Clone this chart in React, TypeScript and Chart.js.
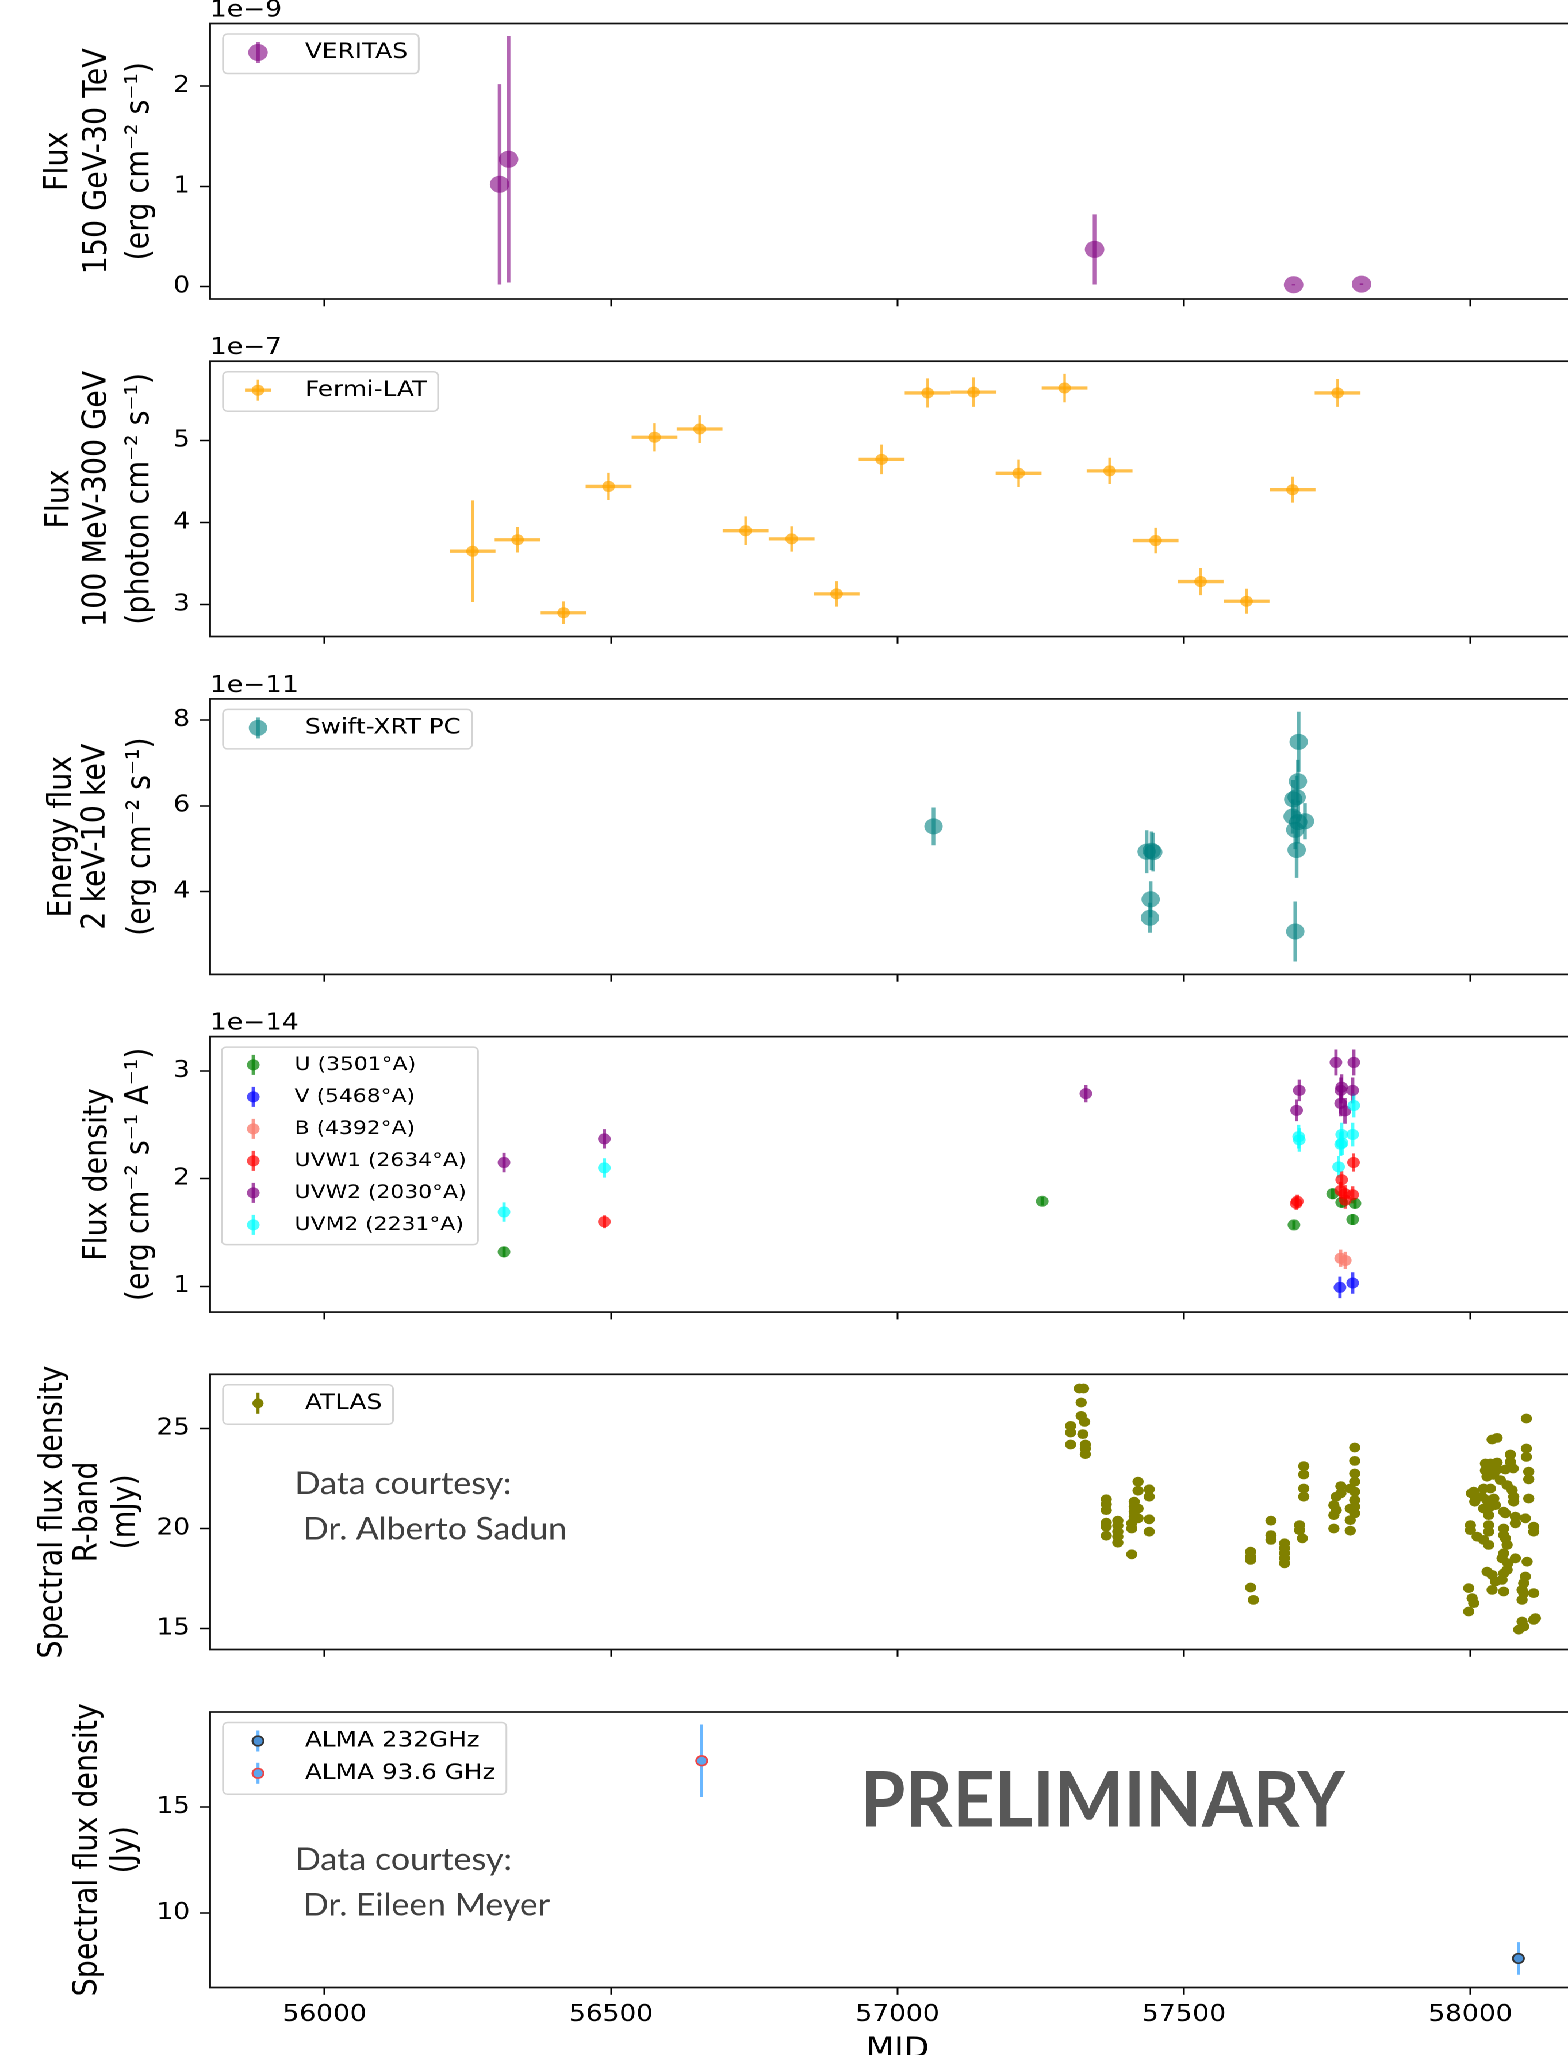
import React, { useEffect, useRef } from "react";
import { Chart, registerables } from "chart.js";

Chart.register(...registerables);

/* ------------------------------------------------------------------ */
/* data                                        */
/* ------------------------------------------------------------------ */
const mjdTicks = [56000, 56500, 57000, 57500, 58000];
const mjdMin = 55800;
const mjdMax = 58200;

// VERITAS 150 GeV-30 TeV (x 1e-9 erg cm-2 s-1)
const veritasMJD = [56305.5, 56321.2, 57344.0, 57691.4, 57810.0];
const veritasFlux = [1.02, 1.27, 0.37, 0.017, 0.023];
const veritasErr = [1.0, 1.23, 0.35, 0.006, 0.008];
const veritasTicks = [0, 1, 2];

// Fermi-LAT 100 MeV-300 GeV (x 1e-7 photon cm-2 s-1)
const fermiMJD = [56258.3, 56336.9, 56417.2, 56495.7, 56576.0, 56654.6, 56734.9, 56815.2, 56893.7, 56972.3,
  57052.6, 57132.8, 57211.4, 57291.7, 57370.2, 57450.5, 57529.1, 57609.3, 57689.6, 57768.2];
const fermiFlux = [3.65, 3.79, 2.90, 4.44, 5.04, 5.14, 3.90, 3.80, 3.13, 4.77,
  5.58, 5.59, 4.60, 5.64, 4.63, 3.78, 3.28, 3.04, 4.40, 5.58];
const fermiErr = [0.62, 0.155, 0.138, 0.165, 0.172, 0.17, 0.175, 0.155, 0.155, 0.18,
  0.177, 0.18, 0.167, 0.173, 0.16, 0.155, 0.165, 0.152, 0.158, 0.17];
const fermiHalfBin = [40, 40, 40, 40, 40, 40, 40, 40, 40, 40, 40, 40, 40, 40, 40, 40, 40, 40, 40, 40];
const fermiTicks = [3, 4, 5];

// Swift-XRT PC 2-10 keV (x 1e-11 erg cm-2 s-1)
const swiftMJD = [57062.9, 57434.9, 57443.6, 57446.4, 57441.9, 57440.7, 57700.2, 57699.0, 57690.8, 57696.7,
  57689.7, 57711.2, 57699.5, 57694.3, 57696.7, 57694.3];
const swiftFlux = [5.52, 4.93, 4.95, 4.92, 3.82, 3.39, 7.49, 6.57, 6.15, 6.20,
  5.75, 5.64, 5.62, 5.44, 4.97, 3.07];
const swiftErr = [0.44, 0.5, 0.45, 0.45, 0.42, 0.35, 0.7, 0.5, 0.45, 0.5,
  0.4, 0.42, 0.5, 0.45, 0.65, 0.7];
const swiftTicks = [4, 6, 8];

// Swift-UVOT (x 1e-14 erg cm-2 s-1 A-1)
const uMJD = [56313.2, 57252.7, 57692.0, 57759.6, 57775.3, 57798.5, 57794.5];
const uFlux = [1.32, 1.79, 1.57, 1.86, 1.78, 1.77, 1.62];
const uErr = [0.05, 0.04, 0.04, 0.05, 0.05, 0.05, 0.05];
const vMJD = [57772.3, 57794.5];
const vFlux = [0.99, 1.03];
const vErr = [0.1, 0.1];
const bMJD = [57773.5, 57781.6];
const bFlux = [1.26, 1.24];
const bErr = [0.08, 0.08];
const uvw1MJD = [56488.4, 57697.8, 57696.0, 57775.3, 57773.5, 57781.0, 57781.6, 57796.0, 57794.5];
const uvw1Flux = [1.60, 1.79, 1.77, 1.99, 1.89, 1.86, 1.80, 2.15, 1.85];
const uvw1Err = [0.06, 0.06, 0.06, 0.08, 0.08, 0.08, 0.08, 0.085, 0.08];
const uvw2MJD = [56313.2, 56488.4, 57328.8, 57701.3, 57696.7, 57765.3, 57775.3, 57774.0, 57773.5, 57781.0, 57796.5, 57794.5];
const uvw2Flux = [2.15, 2.37, 2.79, 2.82, 2.635, 3.08, 2.85, 2.82, 2.70, 2.63, 3.08, 2.82];
const uvw2Err = [0.09, 0.09, 0.08, 0.1, 0.1, 0.12, 0.12, 0.12, 0.12, 0.12, 0.12, 0.12];
const uvm2MJD = [56313.2, 56488.4, 57700.2, 57701.3, 57775.3, 57776.0, 57773.5, 57770.0, 57796.5, 57794.5];
const uvm2Flux = [1.69, 2.10, 2.39, 2.36, 2.41, 2.33, 2.32, 2.11, 2.68, 2.41];
const uvm2Err = [0.09, 0.09, 0.11, 0.11, 0.11, 0.11, 0.11, 0.1, 0.11, 0.11];
const uvotTicks = [1, 2, 3];

// ATLAS R-band (mJy)
const atlasMJD = [
  57317.4, 57324.8, 57320.6, 57320.6, 57326.7, 57302.2, 57302.2, 57323.5, 57302.2, 57327.9, 57327.9, 57327.9,
  57364.4, 57364.4, 57364.4, 57364.4, 57364.4, 57364.4,
  57384.6, 57384.6, 57384.6, 57384.6, 57384.6,
  57408.9, 57408.9, 57408.9,
  57413.2, 57413.2, 57413.2, 57413.2,
  57419.9, 57419.9, 57419.9, 57419.9,
  57439.4, 57439.4, 57439.4, 57439.4,
  57616.4, 57616.4, 57616.4, 57616.4, 57621.3,
  57651.9, 57651.9, 57651.9,
  57675.6, 57675.6, 57675.6, 57675.6, 57675.6,
  57701.8, 57701.8, 57706.7,
  57709.1, 57709.1, 57709.1, 57709.1,
  57761.7, 57761.7, 57761.7, 57765.8, 57765.8, 57773.9, 57773.9,
  57790.3, 57790.3, 57790.3, 57790.3,
  57798.1, 57798.1, 57798.1, 57798.1, 57798.1, 57798.1, 57798.1, 57798.1,
  58097.7, 58037.9, 58046.6, 58097.7, 58097.7, 58069.8, 58069.8, 58026.2, 58034.9, 58046.6,
  58026.2, 58034.9, 58046.6, 58061.0, 58074.7, 58101.8, 58101.8, 58029.0, 58040.8, 58052.4,
  58064.1, 58005.8, 58023.2, 58034.9, 58072.8, 58075.6, 58008.7, 58020.3, 58101.8, 58029.0,
  58040.8, 58075.6, 58001.6, 58007.6, 58023.2, 58034.9, 58043.6, 58058.1, 58061.1, 58031.9,
  58078.5, 58078.5, 58096.0, 58110.5, 58110.5, 58000.0, 58000.0, 58031.9, 58031.9, 58058.1,
  58058.1, 58011.7, 58023.2, 58031.9, 58061.1, 58064.1, 58058.1, 58055.2, 58078.5, 58065.5,
  58064.1, 58099.0, 58029.1, 58037.9, 58043.6, 58058.1, 58055.2, 58096.0, 58093.0, 58037.9,
  58058.1, 58090.2, 58093.0, 58110.5, 58090.2, 57997.0, 58003.0, 58005.8, 57997.0, 58110.5,
  58113.5, 58090.2, 58093.0, 58084.3,
];
const atlasFlux = [
  27.0, 27.0, 26.3, 25.63, 25.33, 25.13, 24.80, 24.72, 24.20, 24.20, 24.00, 23.72,
  21.46, 21.21, 20.92, 20.29, 20.09, 19.64,
  20.39, 20.14, 19.84, 19.59, 19.29,
  18.71, 20.00, 20.26,
  21.34, 21.09, 20.84, 20.59,
  22.34, 21.89, 21.00, 20.51,
  21.96, 21.59, 20.46, 19.84,
  18.84, 18.59, 18.43, 17.05, 16.43,
  20.39, 19.67, 19.43,
  19.26, 19.01, 18.76, 18.51, 18.26,
  20.17, 19.92, 19.51,
  23.12, 22.70, 22.00, 21.59,
  21.17, 20.67, 20.00, 21.59, 20.92, 22.12, 21.76,
  22.00, 21.00, 20.42, 19.89,
  24.05, 23.38, 22.75, 22.34, 21.84, 21.42, 21.09, 20.76,
  25.50, 24.45, 24.53, 24.00, 23.58, 23.70, 23.33, 23.25, 23.25, 23.30,
  22.90, 22.85, 22.95, 22.95, 23.00, 22.84, 22.46, 22.59, 22.68, 22.42,
  22.17, 21.84, 22.00, 22.00, 21.92, 21.59, 21.50, 21.59, 21.50, 21.42,
  21.50, 21.34, 21.76, 21.34, 21.00, 21.09, 21.17, 20.84, 20.76, 20.67,
  20.59, 20.26, 20.51, 20.09, 19.84, 20.17, 19.92, 20.17, 19.84, 20.00,
  19.67, 19.59, 19.43, 19.18, 19.51, 19.18, 18.76, 18.51, 18.51, 18.26,
  17.93, 18.34, 17.84, 17.68, 17.35, 17.76, 17.43, 17.60, 17.27, 16.93,
  16.85, 16.93, 16.77, 16.77, 16.43, 17.02, 16.52, 16.27, 15.85, 15.43,
  15.52, 15.35, 15.10, 14.94,
];
const atlasTicks = [15, 20, 25];

// ALMA (Jy)
const alma232MJD = [58083.8];
const alma232Flux = [7.85];
const alma232Err = [0.77];
const alma93MJD = [56658.3];
const alma93Flux = [17.17];
const alma93Err = [1.71];
const almaTicks = [10, 15];

/* ------------------------------------------------------------------ */
/* layout / style                                                      */
/* ------------------------------------------------------------------ */
const S = 1.15; // horizontal stretch of the reference figure
const FIG_W = 1568;
const FIG_H = 2055;
const AX_LEFT = 210;
const AX_RIGHT = 1585;
const PANEL_H = 275.5;
const PANEL_TOP0 = 23.5;
const PANEL_STEP = 337.7;
const LW = Math.ceil(1600 / S);
const FONT = "'DejaVu Sans', 'Liberation Sans', sans-serif";
const NOTE_FONT = "Lato, 'Open Sans', sans-serif";

const LEG_STD = { font: 21.5, frameLeft: 13, frameTop: 10.5, markerX: 48, textX: 95, row0: 29, rowGap: 32.3, bottomPad: 21, rightPad: 11, errHalf: 10.5, xErrHalf: 13 };
const LEG_UVOT = { font: 19, frameLeft: 11.7, frameTop: 10.5, markerX: 43.3, textX: 84.6, row0: 28.3, rowGap: 32, bottomPad: 19.7, rightPad: 11.5, errHalf: 10, xErrHalf: 13 };

function set(label: string, xs: number[], ys: number[], o: any) {
  return {
    label,
    data: xs.map((x, i) => ({ x, y: ys[i] })),
    backgroundColor: o.color,
    borderColor: o.edge || o.color,
    pointBackgroundColor: o.color,
    pointBorderColor: o.edge || "rgba(0,0,0,0)",
    pointBorderWidth: o.edge ? o.edgeWidth : 0,
    borderWidth: 0,
    pointRadius: o.r,
    pointHoverRadius: o.r,
    showLine: false,
    order: o.order || 0,
    yErr: o.yErr,
    xErr: o.xErr,
    errColor: o.errColor || o.color,
    errWidth: o.errWidth || 3,
    xErrWidth: o.xErrWidth || 3,
  };
}

const panels = [
  {
    datasets: [set("VERITAS", veritasMJD, veritasFlux, { color: "rgba(128,0,128,0.6)", r: 8.5, yErr: veritasErr, errWidth: 3.2 })],
    yMin: -0.125, yMax: 2.625, yTicks: veritasTicks, offset: "1e\u22129",
    titleLines: ["Flux", "150 GeV-30 TeV", "(erg cm\u207B\u00B2 s\u207B\u00B9)"], titleXs: [59, 98, 140],
    legend: LEG_STD, notes: [],
  },
  {
    datasets: [set("Fermi-LAT", fermiMJD, fermiFlux, { color: "rgba(255,165,0,0.7)", r: 5.5, yErr: fermiErr, xErr: fermiHalfBin, errWidth: 2.2, xErrWidth: 3.3 })],
    yMin: 2.61, yMax: 5.967, yTicks: fermiTicks, offset: "1e\u22127",
    titleLines: ["Flux", "100 MeV-300 GeV", "(photon cm\u207B\u00B2 s\u207B\u00B9)"], titleXs: [60, 97, 140],
    legend: LEG_STD, notes: [],
  },
  {
    datasets: [set("Swift-XRT PC", swiftMJD, swiftFlux, { color: "rgba(0,128,128,0.6)", r: 8, yErr: swiftErr, errWidth: 3.2 })],
    yMin: 2.07, yMax: 8.49, yTicks: swiftTicks, offset: "1e\u221211",
    titleLines: ["Energy flux", "2 keV-10 keV", "(erg cm\u207B\u00B2 s\u207B\u00B9)"], titleXs: [62, 96, 141],
    legend: LEG_STD, notes: [],
  },
  {
    datasets: [
      set("U (3501\u00B0A)", uMJD, uFlux, { color: "rgba(0,128,0,0.7)", r: 5.5, yErr: uErr, errWidth: 2.9, order: 0 }),
      set("V (5468\u00B0A)", vMJD, vFlux, { color: "rgba(0,0,255,0.7)", r: 5.5, yErr: vErr, errWidth: 2.9, order: -1 }),
      set("B (4392\u00B0A)", bMJD, bFlux, { color: "rgba(250,128,114,0.8)", r: 5.5, yErr: bErr, errWidth: 2.9, order: -2 }),
      set("UVW1 (2634\u00B0A)", uvw1MJD, uvw1Flux, { color: "rgba(255,0,0,0.7)", r: 5.5, yErr: uvw1Err, errWidth: 2.9, order: -3 }),
      set("UVW2 (2030\u00B0A)", uvw2MJD, uvw2Flux, { color: "rgba(128,0,128,0.7)", r: 5.5, yErr: uvw2Err, errWidth: 2.9, order: -4 }),
      set("UVM2 (2231\u00B0A)", uvm2MJD, uvm2Flux, { color: "rgba(0,255,255,0.7)", r: 5.5, yErr: uvm2Err, errWidth: 2.9, order: -5 }),
    ],
    yMin: 0.76, yMax: 3.32, yTicks: uvotTicks, offset: "1e\u221214",
    titleLines: ["Flux density", "(erg cm\u207B\u00B2 s\u207B\u00B9 A\u207B\u00B9)"], titleXs: [98, 140],
    legend: LEG_UVOT, notes: [],
  },
  {
    datasets: [set("ATLAS", atlasMJD, atlasFlux, { color: "#808000", r: 4.9, errWidth: 2.6 })],
    yMin: 13.95, yMax: 27.71, yTicks: atlasTicks, offset: null,
    titleLines: ["Spectral flux density", "R-band", "(mJy)"], titleXs: [53, 88, 126],
    legend: LEG_STD,
    notes: [
      { text: "Data courtesy:", dx: 84.6, dy: 119.7, capH: 22, w: 217, bold: false, color: "#404040" },
      { text: "Dr. Alberto Sadun", dx: 93, dy: 165, capH: 22, w: 264, bold: false, color: "#404040" },
    ],
  },
  {
    datasets: [
      set("ALMA 232GHz", alma232MJD, alma232Flux, { color: "#4a90d6", edge: "#333333", edgeWidth: 1.6, r: 4.8, yErr: alma232Err, errColor: "rgba(80,170,255,0.85)", errWidth: 2.6, order: 0 }),
      set("ALMA 93.6 GHz", alma93MJD, alma93Flux, { color: "#5aa6ee", edge: "#ee4444", edgeWidth: 1.6, r: 4.8, yErr: alma93Err, errColor: "rgba(80,170,255,0.85)", errWidth: 2.6, order: -1 }),
    ],
    yMin: 6.48, yMax: 19.47, yTicks: almaTicks, offset: null,
    titleLines: ["Spectral flux density", "(Jy)"], titleXs: [88, 125],
    legend: LEG_STD,
    notes: [
      { text: "PRELIMINARY", dx: 650, dy: 114.7, capH: 55, w: 485, bold: true, color: "#585858" },
      { text: "Data courtesy:", dx: 85, dy: 158, capH: 22, w: 217, bold: false, color: "#404040" },
      { text: "Dr. Eileen Meyer", dx: 93, dy: 203.3, capH: 22, w: 247, bold: false, color: "#404040" },
    ],
  },
];

function geom(i: number) {
  const panelTop = PANEL_TOP0 + PANEL_STEP * i;
  const canvasTop = Math.round(panelTop) - 40;
  const padTop = panelTop - canvasTop;
  const last = i === panels.length - 1;
  const H = last ? 2100 - canvasTop : 338;
  return { panelTop, canvasTop, padTop, last, H };
}

function roundRectPath(ctx: CanvasRenderingContext2D, x: number, y: number, w: number, h: number, r: number) {
  ctx.beginPath();
  ctx.moveTo(x + r, y);
  ctx.lineTo(x + w - r, y);
  ctx.arcTo(x + w, y, x + w, y + r, r);
  ctx.lineTo(x + w, y + h - r);
  ctx.arcTo(x + w, y + h, x + w - r, y + h, r);
  ctx.lineTo(x + r, y + h);
  ctx.arcTo(x, y + h, x, y + h - r, r);
  ctx.lineTo(x, y + r);
  ctx.arcTo(x, y, x + r, y, r);
  ctx.closePath();
}

function makeDecor(panel: any) {
  return {
    id: "decor",
    beforeDatasetsDraw(chart: any) {
      const { ctx, chartArea: ca } = chart;
      const xs = chart.scales.x;
      const ys = chart.scales.y;
      ctx.save();
      ctx.beginPath();
      ctx.rect(ca.left, ca.top, ca.right - ca.left, ca.bottom - ca.top);
      ctx.clip();
      ctx.lineCap = "butt";
      chart.data.datasets.forEach((ds: any) => {
        if (!ds.yErr && !ds.xErr) return;
        ctx.strokeStyle = ds.errColor;
        ds.data.forEach((p: any, j: number) => {
          const px = xs.getPixelForValue(p.x);
          const py = ys.getPixelForValue(p.y);
          if (ds.xErr) {
            ctx.lineWidth = ds.xErrWidth;
            ctx.beginPath();
            ctx.moveTo(xs.getPixelForValue(p.x - ds.xErr[j]), py);
            ctx.lineTo(xs.getPixelForValue(p.x + ds.xErr[j]), py);
            ctx.stroke();
          }
          if (ds.yErr) {
            ctx.lineWidth = ds.errWidth;
            ctx.beginPath();
            ctx.moveTo(px, ys.getPixelForValue(p.y - ds.yErr[j]));
            ctx.lineTo(px, ys.getPixelForValue(p.y + ds.yErr[j]));
            ctx.stroke();
          }
        });
      });
      ctx.restore();
    },
    afterDraw(chart: any) {
      const { ctx, chartArea: ca } = chart;
      ctx.save();
      // axes frame (spines)
      ctx.strokeStyle = "#111";
      ctx.lineWidth = 1.7;
      ctx.strokeRect(ca.left, ca.top, ca.right - ca.left, ca.bottom - ca.top);

      // offset text
      if (panel.offset) {
        ctx.fillStyle = "#000";
        ctx.font = `23px ${FONT}`;
        ctx.textAlign = "left";
        ctx.textBaseline = "alphabetic";
        ctx.fillText(panel.offset, ca.left, ca.top - 7);
      }

      // y-axis title (multi-line, rotated)
      ctx.fillStyle = "#000";
      ctx.font = `28.5px ${FONT}`;
      ctx.textAlign = "center";
      ctx.textBaseline = "middle";
      const cy = (ca.top + ca.bottom) / 2;
      panel.titleLines.forEach((t: string, i: number) => {
        ctx.save();
        ctx.translate(panel.titleXs[i] / S, cy);
        ctx.rotate(-Math.PI / 2);
        ctx.fillText(t, 0, 0);
        ctx.restore();
      });

      // free text annotations
      panel.notes.forEach((n: any) => {
        const size = n.capH / 0.717;
        ctx.font = `${n.bold ? "bold " : ""}${size}px ${NOTE_FONT}`;
        ctx.fillStyle = n.color;
        ctx.textAlign = "left";
        ctx.textBaseline = "alphabetic";
        const w = ctx.measureText(n.text).width;
        ctx.save();
        ctx.translate(ca.left + n.dx / S, ca.top + n.dy);
        ctx.scale(n.w / S / w, 1);
        ctx.fillText(n.text, 0, 0);
        ctx.restore();
      });

      // legend
      const L = panel.legend;
      const sets = chart.data.datasets;
      ctx.font = `${L.font}px ${FONT}`;
      let maxW = 0;
      sets.forEach((d: any) => { maxW = Math.max(maxW, ctx.measureText(d.label).width); });
      const textX = ca.left + L.textX / S;
      const fx = ca.left + L.frameLeft / S;
      const fy = ca.top + L.frameTop;
      const fw = textX + maxW + L.rightPad / S - fx;
      const lastRow = ca.top + L.row0 + L.rowGap * (sets.length - 1);
      const fh = lastRow + L.bottomPad - fy;
      roundRectPath(ctx, fx, fy, fw, fh, 4);
      ctx.fillStyle = "rgba(255,255,255,0.8)";
      ctx.fill();
      ctx.strokeStyle = "#d3d3d3";
      ctx.lineWidth = 1.5;
      ctx.stroke();
      sets.forEach((d: any, i: number) => {
        const ry = ca.top + L.row0 + L.rowGap * i;
        const mx = ca.left + L.markerX / S;
        ctx.strokeStyle = d.errColor;
        ctx.lineCap = "butt";
        ctx.lineWidth = d.errWidth;
        ctx.beginPath();
        ctx.moveTo(mx, ry - L.errHalf);
        ctx.lineTo(mx, ry + L.errHalf);
        ctx.stroke();
        if (d.xErr) {
          ctx.lineWidth = d.xErrWidth;
          ctx.beginPath();
          ctx.moveTo(mx - L.xErrHalf / S, ry);
          ctx.lineTo(mx + L.xErrHalf / S, ry);
          ctx.stroke();
        }
        ctx.beginPath();
        ctx.arc(mx, ry, d.pointRadius, 0, Math.PI * 2);
        ctx.fillStyle = d.pointBackgroundColor;
        ctx.fill();
        if (d.pointBorderWidth > 0) {
          ctx.lineWidth = d.pointBorderWidth;
          ctx.strokeStyle = d.pointBorderColor;
          ctx.stroke();
        }
        ctx.fillStyle = "#000";
        ctx.font = `${L.font}px ${FONT}`;
        ctx.textAlign = "left";
        ctx.textBaseline = "middle";
        ctx.fillText(d.label, textX, ry);
      });
      ctx.restore();
    },
  };
}

function buildConfig(panel: any, i: number): any {
  const g = geom(i);
  const xAxisH = g.H - g.padTop - PANEL_H;
  const padRight = LW - AX_RIGHT / S;
  return {
    type: "scatter",
    data: { datasets: panel.datasets },
    options: {
      animation: false,
      responsive: false,
      devicePixelRatio: 2,
      events: [],
      layout: { padding: { top: g.padTop, left: 0, right: padRight, bottom: 0 }, autoPadding: false },
      plugins: { legend: { display: false }, tooltip: { enabled: false }, title: { display: false } },
      scales: {
        x: {
          type: "linear",
          position: "bottom",
          min: mjdMin,
          max: mjdMax,
          afterBuildTicks: (s: any) => { s.ticks = mjdTicks.map((v) => ({ value: v })); },
          afterFit: (s: any) => { s.height = xAxisH; },
          border: { display: false },
          grid: { display: true, drawOnChartArea: false, drawTicks: true, tickLength: 7.3, tickWidth: 1.5, tickColor: "#000" },
          ticks: {
            display: g.last,
            autoSkip: false,
            maxRotation: 0,
            color: "#000",
            padding: 6.5,
            font: { family: FONT, size: 23 },
            callback: (v: any) => String(v),
          },
          title: {
            display: g.last,
            text: "MJD",
            color: "#000",
            font: { family: FONT, size: 28.5 },
            padding: { top: 0, bottom: 33 },
          },
        },
        y: {
          type: "linear",
          position: "left",
          min: panel.yMin,
          max: panel.yMax,
          afterBuildTicks: (s: any) => { s.ticks = panel.yTicks.map((v: number) => ({ value: v })); },
          afterFit: (s: any) => { s.width = AX_LEFT / S; },
          border: { display: false },
          grid: { display: true, drawOnChartArea: false, drawTicks: true, tickLength: 8.7, tickWidth: 1.5, tickColor: "#000" },
          ticks: {
            autoSkip: false,
            color: "#000",
            padding: 8.7,
            font: { family: FONT, size: 23 },
            callback: (v: any) => String(v),
          },
        },
      },
    },
    plugins: [makeDecor(panel)],
  };
}

export default function App() {
  const refs = useRef<(HTMLCanvasElement | null)[]>([]);

  useEffect(() => {
    const charts: Chart[] = [];
    panels.forEach((p, i) => {
      const c = refs.current[i];
      if (!c) return;
      charts.push(new Chart(c, buildConfig(p, i)));
    });
    return () => { charts.forEach((ch) => ch.destroy()); };
  }, []);

  return (
    <div style={{ position: "absolute", left: 0, top: 0, width: FIG_W, height: FIG_H, overflow: "hidden", background: "#fff" }}>
      <div style={{ position: "absolute", left: 0, top: 0, width: LW, height: FIG_H + 60, transform: `scaleX(${S})`, transformOrigin: "0 0" }}>
        {panels.map((_, i) => {
          const g = geom(i);
          return (
            <canvas
              key={i}
              ref={(el) => { refs.current[i] = el; }}
              width={LW}
              height={g.H}
              style={{ position: "absolute", left: 0, top: g.canvasTop }}
            />
          );
        })}
      </div>
    </div>
  );
}
